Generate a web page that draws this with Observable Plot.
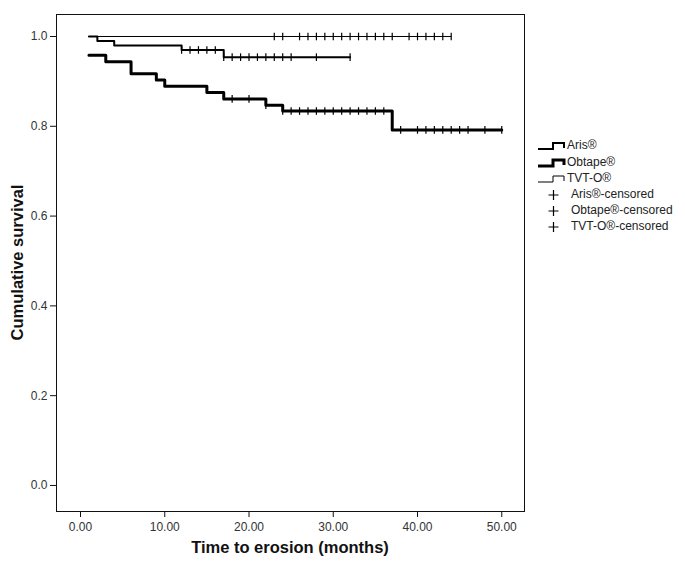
<!DOCTYPE html>
<html><head><meta charset="utf-8">
<script src="https://cdn.jsdelivr.net/npm/d3@7"></script>
<script src="https://cdn.jsdelivr.net/npm/@observablehq/plot@0.6"></script>
<style>
body{margin:0;background:#fff;}
#wrap{position:relative;width:685px;height:575px;font-family:"Liberation Sans",Arial,sans-serif;}
#wrap svg{position:absolute;left:0;top:0;}
</style></head><body><div id="wrap"></div>
<script>
// ---- data ----
const groups = ["Aris®", "Obtape®", "TVT-O®"];

const arisTimes = [1, 2, 4, 12, 17, 32];
const arisSurv  = [1.0, 0.99, 0.98, 0.97, 0.954, 0.954];
const arisCensored = [12, 13, 14, 15, 16, 17, 18, 19, 20, 21, 22, 23, 24, 25, 28, 32];

const obtapeTimes = [1, 3, 6, 9, 10, 15, 17, 22, 24, 37, 50];
const obtapeSurv  = [0.958, 0.944, 0.917, 0.903, 0.889, 0.875, 0.861, 0.847, 0.834, 0.792, 0.792];
const obtapeCensored = [18, 20, 22, 24, 25, 26, 27, 28, 29, 30, 31, 32, 33, 34, 35, 36, 38, 40, 41, 42, 43, 44, 45, 46, 48, 50];

const tvtTimes = [1, 44];
const tvtSurv  = [1.0, 1.0];
const tvtCensored = [23, 24, 26, 27, 28, 29, 30, 31, 32, 33, 34, 35, 36, 37, 39, 40, 41, 42, 43, 44];

const xTicks = [0, 10, 20, 30, 40, 50];
const yTicks = [0, 0.2, 0.4, 0.6, 0.8, 1.0];

const legendLabels = ["Aris®", "Obtape®", "TVT-O®", "Aris®-censored", "Obtape®-censored", "TVT-O®-censored"];

// ---- helpers ----
function curve(name, times, surv) {
  return times.map((t, i) => ({group: name, time: t, surv: surv[i]}));
}
function level(times, surv, t) {
  let s = surv[0];
  for (let i = 0; i < times.length; i++) if (times[i] <= t) s = surv[i];
  return s;
}
function cens(name, times, surv, ct) {
  return ct.map(t => ({group: name, time: t, surv: level(times, surv, t)}));
}
const vbar = {draw(ctx, size) { const h = Math.sqrt(size / Math.PI); ctx.moveTo(0, -h); ctx.lineTo(0, h); }};

const arisLine = curve(groups[0], arisTimes, arisSurv);
const obtapeLine = curve(groups[1], obtapeTimes, obtapeSurv);
const tvtLine = curve(groups[2], tvtTimes, tvtSurv);
const censAll = [
  ...cens(groups[0], arisTimes, arisSurv, arisCensored),
  ...cens(groups[1], obtapeTimes, obtapeSurv, obtapeCensored),
  ...cens(groups[2], tvtTimes, tvtSurv, tvtCensored)
];

const W = 685, H = 575;
const mL = 56, mR = 161, mT = 14, mB = 64;

const chart = Plot.plot({
  width: W, height: H,
  marginLeft: mL, marginRight: mR, marginTop: mT, marginBottom: mB,
  style: {fontFamily: '"Liberation Sans", Arial, sans-serif', fontSize: "12px", color: "#111", background: "white"},
  x: {domain: [-2.85, 52.7]},
  y: {domain: [-0.058, 1.049]},
  marks: [
    Plot.frame({stroke: "#111", strokeWidth: 1}),
    Plot.axisX({ticks: xTicks, tickFormat: d => d.toFixed(2), tickSize: 6, tickPadding: 5, label: null, fill: "#333"}),
    Plot.axisY({ticks: yTicks, tickFormat: d => d.toFixed(1), tickSize: 6, tickPadding: 3, label: null, fill: "#333"}),
    Plot.line(tvtLine, {x: "time", y: "surv", curve: "step-after", stroke: "black", strokeWidth: 1}),
    Plot.line(arisLine, {x: "time", y: "surv", curve: "step-after", stroke: "black", strokeWidth: 2}),
    Plot.line(obtapeLine, {x: "time", y: "surv", curve: "step-after", stroke: "black", strokeWidth: 3}),
    Plot.dot(censAll, {x: "time", y: "surv", symbol: vbar, r: 3.8, fill: "none", stroke: "black", strokeWidth: 1.2})
  ]
});
document.getElementById("wrap").appendChild(chart);

// ---- overlay: axis titles and legend ----
const ov = d3.select("#wrap").append("svg").attr("width", W).attr("height", H)
  .style("font-family", '"Liberation Sans", Arial, sans-serif');

ov.append("text").attr("x", (mL + (W - mR)) / 2).attr("y", 549)
  .attr("text-anchor", "middle").attr("dominant-baseline", "middle")
  .attr("font-size", 16.5).attr("font-weight", "bold").attr("fill", "#111")
  .text("Time to erosion (months)");

ov.append("text").attr("transform", `translate(19,${(mT + (H - mB)) / 2}) rotate(-90)`)
  .attr("text-anchor", "middle").attr("dominant-baseline", "middle")
  .attr("font-size", 16.5).attr("font-weight", "bold").attr("fill", "#111")
  .text("Cumulative survival");

const rowY = [146, 163, 179, 195, 211, 227];
const widths = [2, 3, 1];
legendLabels.forEach((lab, i) => {
  const c = rowY[i];
  if (i < 3) {
    ov.append("path")
      .attr("d", `M538,${c + 3}H553V${c - 3}H564V${c + 2}`)
      .attr("fill", "none").attr("stroke", "black").attr("stroke-width", widths[i]);
    ov.append("text").attr("x", 567).attr("y", c).attr("dominant-baseline", "middle")
      .attr("font-size", 12).attr("fill", "#222").text(lab);
  } else {
    ov.append("path")
      .attr("d", `M548.5,${c}H558.5M553.5,${c - 5}V${c + 5}`)
      .attr("fill", "none").attr("stroke", "black").attr("stroke-width", 1.2);
    ov.append("text").attr("x", 571).attr("y", c).attr("dominant-baseline", "middle")
      .attr("font-size", 12).attr("fill", "#222").text(lab);
  }
});
</script></body></html>
